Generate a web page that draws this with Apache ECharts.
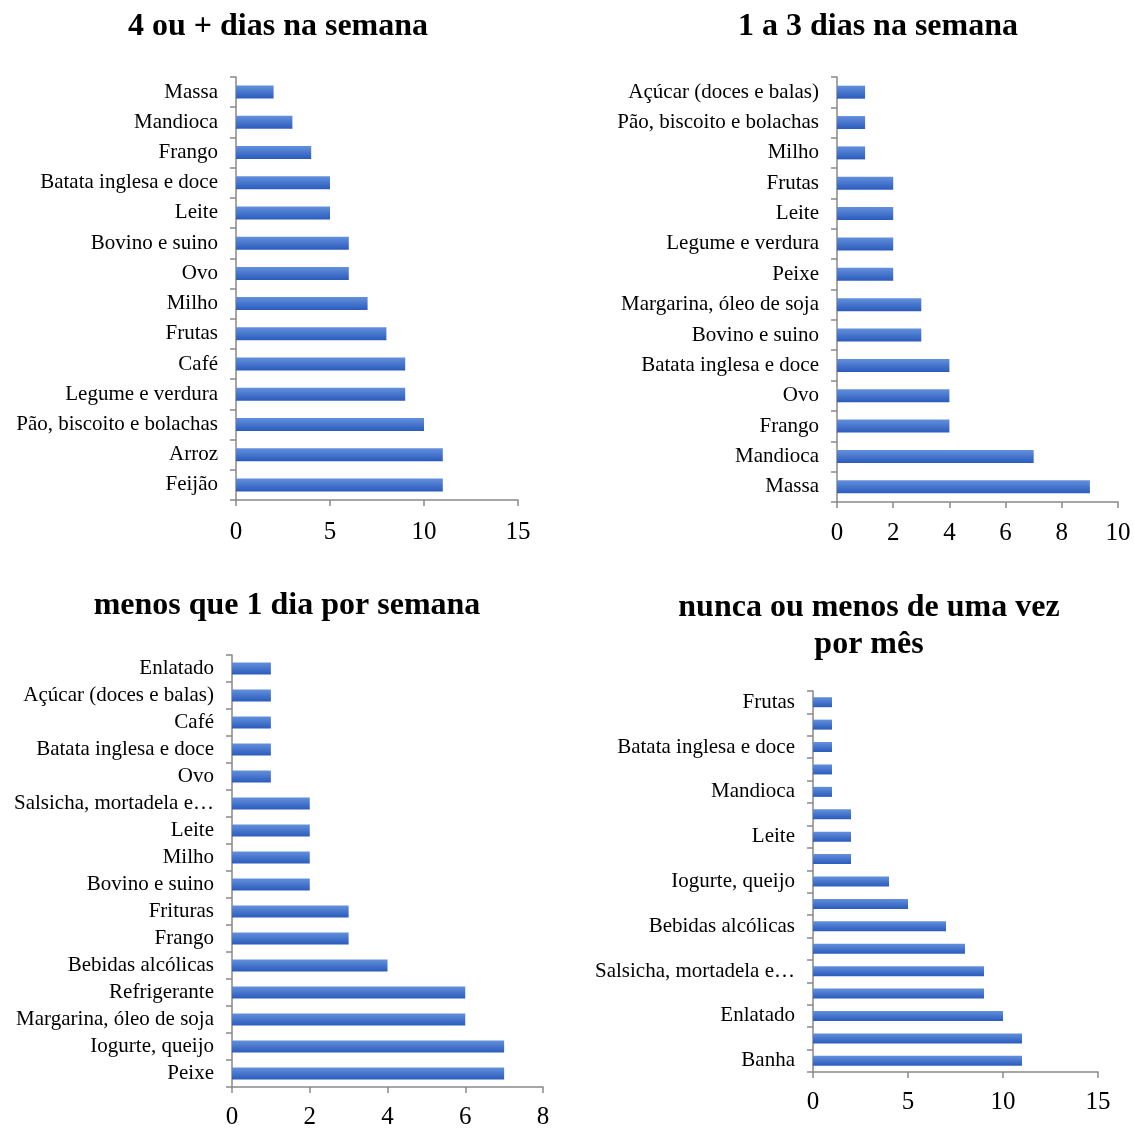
<!DOCTYPE html>
<html>
<head>
<meta charset="utf-8">
<script src="https://cdn.jsdelivr.net/npm/echarts@6/dist/echarts.min.js"></script>
<style>
  html, body { margin: 0; padding: 0; background: #fff; }
  #main { width: 1134px; height: 1128px; }
</style>
</head>
<body>
<div id="main"></div>
<script>
// categorias e valores, de baixo para cima (ordem do eixo de categorias)
var cat1 = ['Feijão', 'Arroz', 'Pão, biscoito e bolachas', 'Legume e verdura', 'Café', 'Frutas', 'Milho',
    'Ovo', 'Bovino e suino', 'Leite', 'Batata inglesa e doce', 'Frango', 'Mandioca', 'Massa'];
var val1 = [11, 11, 10, 9, 9, 8, 7, 6, 6, 5, 5, 4, 3, 2];

var cat2 = ['Massa', 'Mandioca', 'Frango', 'Ovo', 'Batata inglesa e doce', 'Bovino e suino',
    'Margarina, óleo de soja', 'Peixe', 'Legume e verdura', 'Leite', 'Frutas', 'Milho',
    'Pão, biscoito e bolachas', 'Açúcar (doces e balas)'];
var val2 = [9, 7, 4, 4, 4, 3, 3, 2, 2, 2, 2, 1, 1, 1];

var cat3 = ['Peixe', 'Iogurte, queijo', 'Margarina, óleo de soja', 'Refrigerante', 'Bebidas alcólicas',
    'Frango', 'Frituras', 'Bovino e suino', 'Milho', 'Leite', 'Salsicha, mortadela e presunto', 'Ovo',
    'Batata inglesa e doce', 'Café', 'Açúcar (doces e balas)', 'Enlatado'];
var val3 = [7, 7, 6, 6, 4, 3, 3, 2, 2, 2, 2, 1, 1, 1, 1, 1];

// no original só metade dos rótulos aparece
var cat4 = ['Banha', 'Frituras', 'Enlatado', 'Refrigerante', 'Salsicha, mortadela e presunto',
    'Margarina, óleo de soja', 'Bebidas alcólicas', 'Açúcar (doces e balas)', 'Iogurte, queijo', 'Café',
    'Leite', 'Milho', 'Mandioca', 'Ovo', 'Batata inglesa e doce', 'Frango', 'Frutas'];
var val4 = [11, 11, 10, 9, 9, 8, 7, 5, 4, 2, 2, 2, 1, 1, 1, 1, 1];

var titles = ['4 ou + dias na semana', '1 a 3 dias na semana', 'menos que 1 dia por semana',
    'nunca ou menos de uma vez\npor mês'];

var FONT = '"Liberation Serif", "Times New Roman", serif';
var AXIS_COLOR = '#898989';

var barColor = new echarts.graphic.LinearGradient(0, 0, 0, 1, [
    {offset: 0, color: '#6390dc'},
    {offset: 1, color: '#2b5bbd'}
]);

var grids = [
    {left: 236, top: 77, width: 282, height: 423, outerBoundsMode: 'none'},
    {left: 837, top: 77, width: 281, height: 425, outerBoundsMode: 'none'},
    {left: 232, top: 655, width: 311, height: 432, outerBoundsMode: 'none'},
    {left: 813, top: 691, width: 285, height: 381, outerBoundsMode: 'none'}
];
var xMax = [15, 10, 8, 15];
var xInt = [5, 2, 2, 5];
var cats = [cat1, cat2, cat3, cat4];
var vals = [val1, val2, val3, val4];
var barW = [13, 13, 12, 10];
var labMargin = [20, 19, 18, 18];

var xAxes = [], yAxes = [], series = [];
for (var i = 0; i < 4; i++) {
    xAxes.push({
        type: 'value',
        gridIndex: i,
        min: 0,
        max: xMax[i],
        interval: xInt[i],
        axisLine: {show: true, lineStyle: {color: AXIS_COLOR, width: 1.5}},
        axisTick: {show: true, length: 6, lineStyle: {color: AXIS_COLOR, width: 1.5}},
        splitLine: {show: false},
        axisLabel: {color: '#000', fontFamily: FONT, fontSize: 25, margin: labMargin[i]}
    });
    yAxes.push({
        type: 'category',
        gridIndex: i,
        data: cats[i],
        axisLine: {show: true, lineStyle: {color: AXIS_COLOR, width: 1.5}},
        axisTick: {show: true, length: 6, interval: 0, lineStyle: {color: AXIS_COLOR, width: 1.5}},
        axisLabel: {
            color: '#000', fontFamily: FONT, fontSize: 21, margin: 18,
            interval: i === 3 ? 1 : 0,
            width: 208, overflow: 'truncate', ellipsis: '…'
        }
    });
    series.push({
        type: 'bar',
        xAxisIndex: i,
        yAxisIndex: i,
        data: vals[i],
        barWidth: barW[i],
        itemStyle: {color: barColor},
        silent: true
    });
}

var titleFont = 'bold 32px ' + FONT;
var option = {
    backgroundColor: '#fff',
    animation: false,
    grid: grids,
    xAxis: xAxes,
    yAxis: yAxes,
    series: series,
    graphic: [
        {type: 'text', x: 278, y: 11, style: {text: titles[0], textAlign: 'center', font: titleFont, fill: '#000'}},
        {type: 'text', x: 878, y: 11, style: {text: titles[1], textAlign: 'center', font: titleFont, fill: '#000'}},
        {type: 'text', x: 287, y: 590, style: {text: titles[2], textAlign: 'center', font: titleFont, fill: '#000'}},
        {type: 'text', x: 869, y: 589, style: {text: titles[3], textAlign: 'center', font: titleFont, fill: '#000', lineHeight: 37}}
    ]
};

var myChart = echarts.init(document.getElementById('main'));
myChart.setOption(option);
</script>
</body>
</html>
